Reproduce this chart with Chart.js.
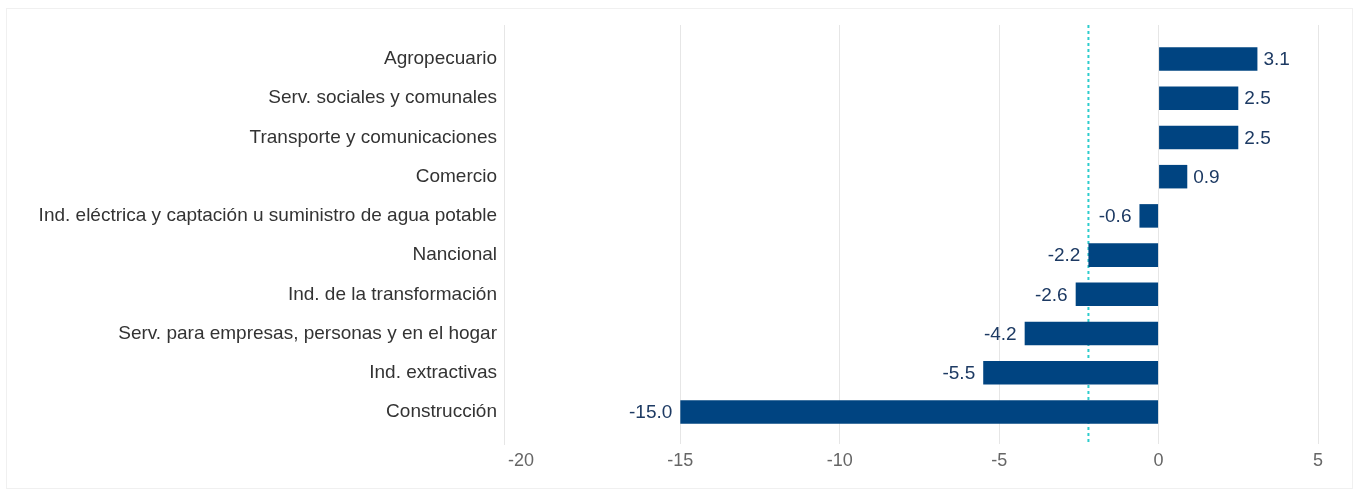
<!DOCTYPE html>
<html lang="es">
<head>
    <meta charset="UTF-8">
    <title>Variación por sector</title>
    <script src="https://cdn.jsdelivr.net/npm/chart.js"></script>
    <style>
        html, body {
            margin: 0;
            padding: 0;
            background: #fff;
            overflow: hidden;
        }
        .chart-wrap {
            position: relative;
            width: 1359px;
            height: 497px;
        }
        /* faint frame around the chart */
        .frame {
            position: absolute;
            left: 6px;
            top: 8px;
            width: 1345px;
            height: 479px;
            border: 1px solid #f0f0f0;
            pointer-events: none;
        }
    </style>
</head>
<body>
    <div class="chart-wrap">
        <div class="frame"></div>
        <canvas id="sectorChart"></canvas>
    </div>

    <script>
        const sectors = [
            'Agropecuario',
            'Serv. sociales y comunales',
            'Transporte y comunicaciones',
            'Comercio',
            'Ind. eléctrica y captación u suministro de agua potable',
            'Nancional',
            'Ind. de la transformación',
            'Serv. para empresas, personas y en el hogar',
            'Ind. extractivas',
            'Construcción'
        ];
        const changes = [3.1, 2.5, 2.5, 0.9, -0.6, -2.2, -2.6, -4.2, -5.5, -15.0];
        const xTicks = [-20, -15, -10, -5, 0, 5];
        const nationalValue = -2.2;

        const fontFamily = '"Liberation Sans", Arial, sans-serif';
        Chart.defaults.font.family = fontFamily;
        Chart.defaults.font.size = 19;

        // dashed reference line for the national figure, drawn under the bars
        const referenceLine = {
            id: 'referenceLine',
            beforeDatasetsDraw(chart) {
                const { ctx, chartArea } = chart;
                const x = chart.scales.x.getPixelForValue(nationalValue);
                ctx.save();
                ctx.strokeStyle = '#2dcccd';
                ctx.lineWidth = 2;
                ctx.setLineDash([3, 3]);
                ctx.beginPath();
                ctx.moveTo(x, chartArea.top);
                ctx.lineTo(x, chartArea.bottom);
                ctx.stroke();
                ctx.restore();
            }
        };

        // value labels at the end of each bar
        const barLabels = {
            id: 'barLabels',
            afterDatasetsDraw(chart) {
                const { ctx } = chart;
                ctx.save();
                ctx.font = '19px ' + fontFamily;
                ctx.fillStyle = '#1d3a63';
                ctx.textBaseline = 'middle';
                chart.getDatasetMeta(0).data.forEach((bar, i) => {
                    const v = changes[i];
                    if (v >= 0) {
                        ctx.textAlign = 'left';
                        ctx.fillText(v.toFixed(1), bar.x + 6, bar.y + 1);
                    } else {
                        ctx.textAlign = 'right';
                        ctx.fillText(v.toFixed(1), bar.x - 8, bar.y + 1);
                    }
                });
                ctx.restore();
            }
        };

        new Chart(document.getElementById('sectorChart'), {
            type: 'bar',
            data: {
                datasets: [{
                    data: changes.map((v, i) => ({ x: v, y: i })),
                    backgroundColor: '#004481',
                    borderWidth: 0,
                    categoryPercentage: 1,
                    barPercentage: 0.6
                }]
            },
            options: {
                indexAxis: 'y',
                responsive: true,
                maintainAspectRatio: false,
                animation: false,
                layout: {
                    padding: { left: 0, top: 25, right: 41, bottom: 23 }
                },
                plugins: {
                    legend: { display: false },
                    tooltip: { enabled: false }
                },
                scales: {
                    x: {
                        type: 'linear',
                        position: 'bottom',
                        min: -20.53,
                        max: 5,
                        afterBuildTicks: s => { s.ticks = xTicks.map(v => ({ value: v })); },
                        afterFit: s => { s.height = 30; },
                        grid: {
                            drawTicks: false,
                            color: c => (c.tick && c.tick.value === -20) ? 'rgba(0,0,0,0)' : '#e6e6e6'
                        },
                        border: { display: false },
                        ticks: {
                            color: '#666666',
                            font: { size: 18 },
                            padding: 6,
                            maxRotation: 0,
                            autoSkip: false
                        }
                    },
                    y: {
                        type: 'linear',
                        reverse: true,
                        offset: false,
                        min: -0.867,
                        max: 9.816,
                        afterBuildTicks: s => { s.ticks = sectors.map((_, i) => ({ value: i })); },
                        afterFit: s => { s.width = 504; },
                        grid: { display: false, drawTicks: false },
                        border: { display: true, color: '#e6e6e6', width: 1 },
                        ticks: {
                            color: '#333333',
                            padding: 7,
                            autoSkip: false,
                            callback: v => sectors[v]
                        }
                    }
                }
            },
            plugins: [referenceLine, barLabels]
        });
    </script>
</body>
</html>
